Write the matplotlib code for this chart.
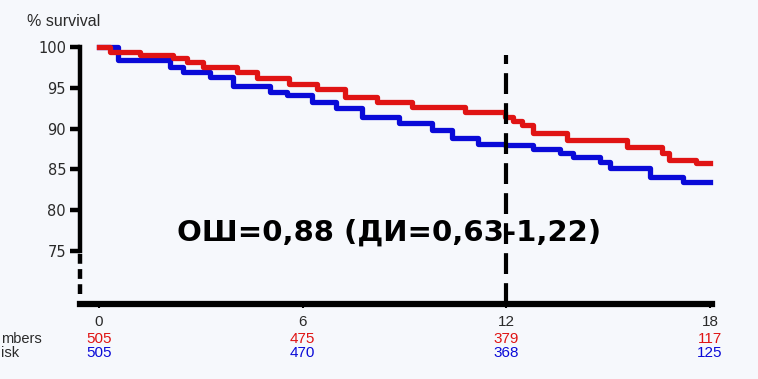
import matplotlib.pyplot as plt
from matplotlib import transforms

# Кривые выживаемости (месяцы, % выживших)
red_t = [0, 0.32, 1.21, 2.18, 2.59, 3.06, 4.06, 4.65, 5.6, 6.42, 7.25, 8.19, 9.22,
         10.78, 11.96, 12.19, 12.45, 12.78, 13.78, 15.55, 16.6, 16.8, 17.6, 18]
red_v = [100, 99.4, 99.0, 98.65, 98.2, 97.55, 96.9, 96.2, 95.5, 94.85, 93.9, 93.25, 92.65,
         92.0, 91.4, 90.9, 90.45, 89.5, 88.6, 87.75, 87.0, 86.15, 85.8, 85.8]

blue_t = [0, 0.56, 2.09, 2.47, 3.27, 3.95, 5.04, 5.54, 6.27, 6.98, 7.75, 8.84, 9.81,
          10.4, 11.16, 11.96, 12.78, 13.58, 13.96, 14.76, 15.05, 16.23, 17.2, 18]
blue_v = [100, 98.4, 97.55, 96.9, 96.3, 95.2, 94.5, 94.1, 93.25, 92.5, 91.4, 90.7, 89.8,
          88.85, 88.1, 88.0, 87.5, 87.0, 86.5, 85.9, 85.2, 84.1, 83.45, 83.45]

# Число пациентов под наблюдением
x_ticks = [0, 6, 12, 18]
y_ticks = [100, 95, 90, 85, 80, 75]
risk_red = [505, 475, 379, 117]
risk_blue = [505, 470, 368, 125]

RED = '#e01414'
BLUE = '#0a0ad8'
W, H = 758, 379

fig = plt.figure(figsize=(W / 100, H / 100), dpi=100)
fig.patch.set_facecolor('#f6f8fc')

# оси: слева x=80px, справа 712px, сверху 47px, снизу 304px
ax = fig.add_axes([80 / W, 1 - 304 / H, (712 - 80) / W, (304 - 47) / H])
ax.set_facecolor('none')
ax.set_xlim(-0.56, 18.06)
ax.set_ylim(68.5, 100)

ax.step(red_t, red_v, where='post', color=RED, lw=3.8, clip_on=False, zorder=3)
ax.step(blue_t, blue_v, where='post', color=BLUE, lw=3.8, clip_on=False, zorder=2)

# вертикальная линия на 12 месяцах
ax.axvline(12, ymin=0.0, ymax=0.97, color='black', lw=3.0, ls=(0, (5, 2.2)), zorder=4)

for s in ['top', 'right']:
    ax.spines[s].set_visible(False)
ax.spines['left'].set_bounds(75, 100)
ax.spines['left'].set_linewidth(3.2)
ax.spines['bottom'].set_linewidth(4.5)
# разрыв оси Y
ax.plot([-0.56, -0.56], [74.6, 69.2], color='black', lw=3.2, ls=(0, (2.2, 1.2)),
        clip_on=False, solid_capstyle='butt')

ax.set_yticks(y_ticks)
ax.set_yticklabels([str(v) for v in y_ticks], fontsize=10.5, color='#2a2a2a',
                   family='DejaVu Sans')
ax.tick_params(axis='y', length=7, width=3.2, pad=3)
ax.set_xticks(x_ticks)
ax.set_xticklabels([str(v) for v in x_ticks], fontsize=11, color='#2a2a2a',
                   family='Liberation Sans')
ax.tick_params(axis='x', length=3, width=1.5, pad=5)

# подпись оси Y
fig.text(27 / W, 1 - 21 / H, '% survival', fontsize=11.5, color='#2a2a2a',
         family='Liberation Sans', va='center', ha='left')

# таблица числа пациентов
tr = transforms.blended_transform_factory(ax.transData, fig.transFigure)
for x, r, b in zip(x_ticks, risk_red, risk_blue):
    ax.text(x, 1 - 339 / H, str(r), transform=tr, ha='center', va='center',
            fontsize=11, color=RED, family='Liberation Sans', clip_on=False)
    ax.text(x, 1 - 353 / H, str(b), transform=tr, ha='center', va='center',
            fontsize=11, color=BLUE, family='Liberation Sans', clip_on=False)
fig.text(1 / W, 1 - 339 / H, 'mbers', fontsize=10.5, color='#2a2a2a',
         family='Liberation Sans', va='center', ha='left')
fig.text(1 / W, 1 - 353 / H, 'isk', fontsize=10.5, color='#2a2a2a',
         family='Liberation Sans', va='center', ha='left')

# отношение шансов
fig.text(389 / W, 1 - 233 / H, 'ОШ=0,88 (ДИ=0,63-1,22)', fontsize=21,
         fontweight='bold', color='black', family='DejaVu Sans',
         ha='center', va='center', zorder=5)

fig.savefig('out.png', dpi=100, facecolor=fig.get_facecolor())
